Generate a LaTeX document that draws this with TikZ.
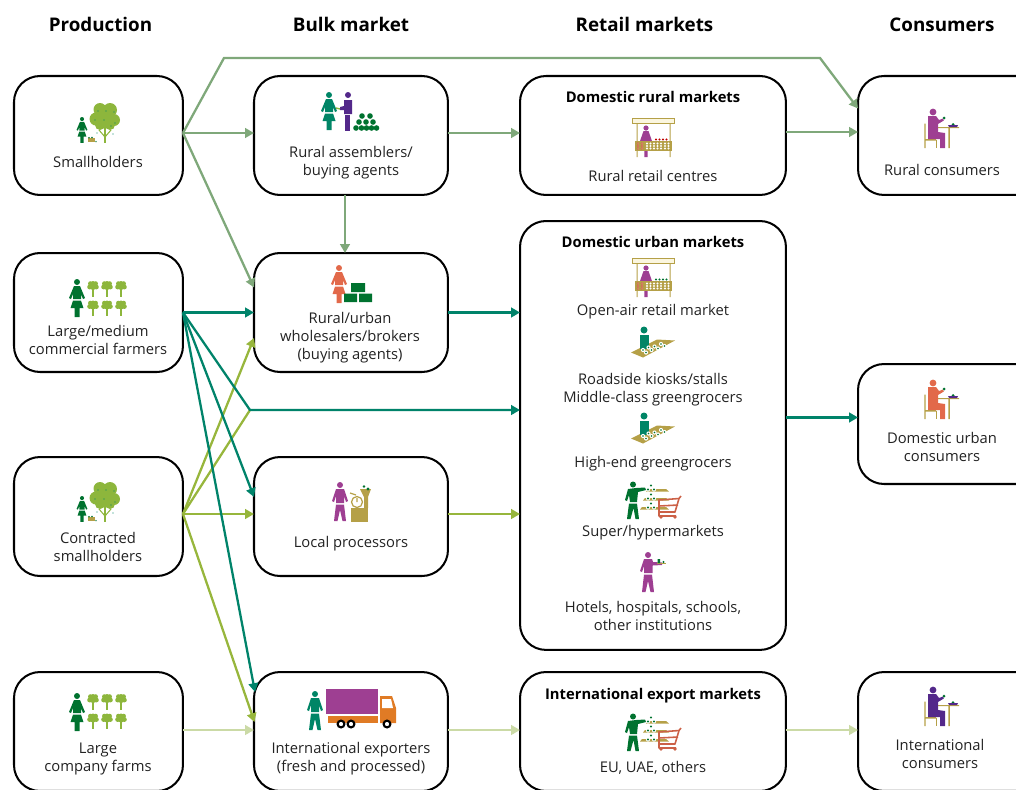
\documentclass[tikz,border=0pt]{standalone}
\usepackage{fontspec}
\setmainfont{Open Sans}
\usetikzlibrary{calc,arrows.meta}

\definecolor{sageline}{HTML}{7FA87A}
\definecolor{tealline}{HTML}{00836A}
\definecolor{oliveline}{HTML}{97B63C}
\definecolor{paleline}{HTML}{CBDAA6}
\definecolor{figgreen}{HTML}{00722F}
\definecolor{figteal}{HTML}{008566}
\definecolor{figpurple}{HTML}{9E3F92}
\definecolor{figviolet}{HTML}{53288A}
\definecolor{figcoral}{HTML}{E2694A}
\definecolor{treegreen}{HTML}{8DB63C}
\definecolor{gold}{HTML}{B5A047}
\definecolor{cream}{HTML}{FBF6DF}
\definecolor{truckorange}{HTML}{E07B25}
\definecolor{cartred}{HTML}{CC6147}
\definecolor{inktext}{HTML}{222222}

\tikzset{
  box/.style={draw=black,line width=1.15pt,rounded corners=.52cm,anchor=north west,inner sep=0pt,outer sep=0pt},
  lab/.style={font=\fontsize{8.4}{10.2}\selectfont,text=inktext,align=center,inner sep=0pt},
  boldlab/.style={font=\fontsize{8.4}{10.2}\selectfont\bfseries,text=black,inner sep=0pt},
  head/.style={font=\fontsize{10.7}{12}\selectfont\bfseries,text=black,inner sep=0pt},
  link/.style={line width=1.3pt,-{Triangle[length=5pt,width=5.4pt]}},
  woman/.pic={
    \fill[#1] (0,3) circle (3);
    \fill[#1] (-3,7) -- (3,7) -- (8,19) -- (6,20) -- (4,15) -- (4,20) -- (-4,20) -- (-4,15) -- (-6,20) -- (-8,19) -- cycle;
    \fill[#1] (-4,21.5) -- (4,21.5) -- (6.5,29) -- (2.5,29) -- (2.5,38) -- (-2.5,38) -- (-2.5,29) -- (-6.5,29) -- cycle;
  },
  man/.pic={
    \fill[#1] (0,3) circle (3);
    \fill[#1] (-4,7) -- (4,7) -- (8,19) -- (6,20) -- (4,14) -- (4,21) -- (-4,21) -- (-4,14) -- (-6,20) -- (-8,19) -- cycle;
    \fill[#1] (-4,22.5) -- (4,22.5) -- (6,39) -- (2.5,39) -- (0,28) -- (-2.5,39) -- (-6,39) -- cycle;
  },
  bigtree/.pic={
    \fill[treegreen] (-.9,24) rectangle (1.1,40);
    \draw[treegreen,line width=.6pt] (0,34) -- (-6,27) (0,34) -- (6,27);
    \foreach \cx/\cy/\cr in {-5/6.5/6.5,5/7/7,-9/16/6.5,9/17/6,0/14/10,-5/22/5,5/22/5}
      \fill[treegreen] (\cx,\cy) circle (\cr);
    \foreach \cx/\cy in {-7/8,1/8,9/9,-10/17,-1/17,6/23,10/20,-8/30,8/31}
      \fill[figteal] (\cx,\cy) circle (.7);
  },
  smalltree/.pic={
    \fill[treegreen] (-.6,7) rectangle (.6,15.5);
    \foreach \cx/\cy/\cr in {-2.6/2.6/2.4,2.6/2.6/2.4,0/2.2/2.2,-3.4/6/2.4,3.4/6/2.4,0/5.5/3.6}
      \fill[treegreen] (\cx,\cy) circle (\cr);
  },
  basket/.pic={
    \fill[gold] (-3.5,-2) rectangle (3.5,2);
    \fill[figgreen] (-2,-2.3) circle (.8) (1,-2.5) circle (.8) (5,1.6) circle (.7);
  },
  stall/.pic={
    \fill[gold] (-16.5,5) rectangle (-15.5,39) (16.5,5) rectangle (17.5,39);
    \draw[gold,fill=cream,line width=.5pt] (-21,.5) rectangle (21,5);
    \fill[figpurple] (-7,10) circle (2.6);
    \fill[figpurple] (-7,13) -- (-4.5,13) -- (-1,23) -- (-13,23) -- (-9.5,13) -- cycle (-8.7,33) rectangle (-5.3,39);
    \foreach \dx in {3,6.5,10,13.5}
      \fill[#1] (\dx,21.5) circle (1.2);
    \fill[gold] (-18,23) rectangle (19,33);
    \foreach \dx in {-15,-11}
      \foreach \dy in {25.5,28,30.5}
        \draw[cartred,fill=white,line width=.3pt] (\dx,\dy) circle (1);
    \foreach \dx in {-6,-2.5,1,4.5,8,12,15.5}
      \foreach \dy in {25.5,28,30.5}
        \fill[white] (\dx,\dy) circle (1.1);
  },
  diner/.pic={
    \fill[gold] (-8.7,15.5) rectangle (-7.3,40) (-8,31) rectangle (3,32.5);
    \fill[gold] (5,19) rectangle (26,20.2) (15.4,20) rectangle (16.8,40);
    \fill[gold] (2.8,32) rectangle (4.2,40);
    \fill[#1] (0,4) circle (3.4);
    \fill[#1] (-5,8) -- (3,8) -- (6,12) -- (10,10.5) -- (10.8,12.5) -- (5,16) -- (5,24) -- (12,25) -- (12,40) -- (7,40) -- (7,31) -- (-5,31) -- cycle;
    \fill[figgreen] (11,10) circle (1.5) (20,16.5) circle (1.5);
    \fill[figviolet] (15,17) -- (25,17) -- (24,19) -- (16,19) -- cycle;
  },
  mat/.pic={
    \fill[gold] (-13,26) -- (13,13) -- (31,14) -- (-1,31) -- cycle;
    \fill[figteal] (0,3.5) circle (3.5);
    \fill[figteal] (-4.5,8.5) rectangle (4.5,22);
    \foreach \dx/\dy in {-1/23.5,2/26,4.5/21,7.5/23.5,10.5/20,14/22,17/17.5,20.5/19.5}
      \fill[white] (\dx,\dy) circle (2.1);
    \foreach \dx/\dy in {-1/23.5,2/26,4.5/21,7.5/23.5,10.5/20,14/22,17/17.5,20.5/19.5}
      \fill[figgreen] (\dx,\dy) circle (.8);
  },
  shelves/.pic={
    \foreach \sy/\sxa in {9/13,18/10,27/7} {
      \fill[gold] (\sxa,\sy+1.5) -- (\sxa+2,\sy-1) -- (33,\sy-1) -- (36,\sy+1.5) -- cycle;
      \foreach \dx/\dy in {-3/0,3/0,0/-4} {
        \fill[white] (18+\dx,\sy-.5+\dy) circle (2.1);
        \fill[figgreen] (18+\dx,\sy-.5+\dy) circle (1.1);
      }
    }
    \fill[figgreen] (0,3.5) circle (3);
    \fill[figgreen] (-5,8) -- (3,7) -- (12,6.5) -- (13,9) -- (5,11) -- (4,21) -- (-3,21) -- (-4,14) -- (-6,20) -- (-8,19) -- cycle;
    \fill[figgreen] (-4,22.5) -- (4,22.5) -- (6,38) -- (2.5,38) -- (.5,27) -- (-2.5,38) -- (-6,38) -- cycle;
    \draw[cartred,line width=.9pt,line join=round] (48,15) -- (46,17.5) -- (42,31) -- (26,31) -- (26,35) -- (43,35);
    \draw[cartred,line width=.9pt] (46,17.5) -- (26,19) -- (26,31) (45,24) -- (26,25);
    \fill[cartred] (28,36) circle (1.8) (42,36) circle (1.8);
  },
  waiter/.pic={
    \fill[#1] (0,3) circle (3);
    \fill[#1] (-4,7) -- (4,7) -- (5,10) -- (14,10.5) -- (14,13) -- (4.5,13.5) -- (4.5,21) -- (-4,21) -- (-4,14) -- (-6,20) -- (-8,19) -- cycle;
    \fill[#1] (-4,22.5) -- (4,22.5) -- (6,40) -- (2.5,40) -- (0,29) -- (-2.5,40) -- (-6,40) -- cycle;
    \fill[gold] (9,11) rectangle (18,12);
    \fill[figgreen] (9.5,7) rectangle (12,11) (15.5,10) circle (1.2);
  }
}

\begin{document}
\begin{tikzpicture}[x=.02cm,y=-.02cm]
  \path[use as bounding box,clip] (0,0) rectangle (1016,789);

  % column heads
  \node[head] (hprod) at (100.5,24) {Production};
  \node[head] (hbulk) at (351,24) {Bulk market};
  \node[head] (hretail) at (644.5,24) {Retail markets};
  \node[head] (hcons) at (942,25) {Consumers};

  % boxes
  \node[box,minimum width=3.38cm,minimum height=2.38cm] (small) at (14,76) {};
  \node[box,minimum width=3.38cm,minimum height=2.38cm] (large) at (14,253) {};
  \node[box,minimum width=3.38cm,minimum height=2.38cm] (contr) at (14,457) {};
  \node[box,minimum width=3.38cm,minimum height=2.38cm] (comp) at (14,672) {};
  \node[box,minimum width=3.88cm,minimum height=2.38cm] (assem) at (254,76) {};
  \node[box,minimum width=3.88cm,minimum height=2.38cm] (whole) at (254,253) {};
  \node[box,minimum width=3.88cm,minimum height=2.38cm] (proc) at (254,457) {};
  \node[box,minimum width=3.88cm,minimum height=2.38cm] (expo) at (254,672) {};
  \node[box,minimum width=5.32cm,minimum height=2.38cm] (drural) at (520,76) {};
  \node[box,minimum width=5.32cm,minimum height=8.58cm] (durban) at (520,221) {};
  \node[box,minimum width=5.32cm,minimum height=2.38cm] (intl) at (520,672) {};
  \node[box,minimum width=3.8cm,minimum height=2.38cm] (crural) at (858,76) {};
  \node[box,minimum width=3.8cm,minimum height=2.4cm] (curban) at (858,364) {};
  \node[box,minimum width=3.8cm,minimum height=2.38cm] (cintl) at (858,672) {};

  % free points of the connectors
  \coordinate (smallout) at ($(small.east)+(0,-2.5)$);
  \coordinate (controut) at ($(contr.east)+(0,-2.5)$);
  \coordinate (compout) at ($(comp.east)+(0,-1.5)$);
  \coordinate (assemout) at ($(assem.east)+(0,-2.5)$);
  \coordinate (procout) at ($(proc.east)+(0,-2.5)$);
  \coordinate (expoout) at ($(expo.east)+(0,-1.5)$);
  \coordinate (intlout) at ($(intl.east)+(0,-1.5)$);
  \coordinate (druralout) at ($(drural.east)+(0,-3.5)$);
  \coordinate (durbanout) at ($(durban.east)+(0,-18)$);
  \coordinate (topa) at (224,58);
  \coordinate (topb) at (820,58);
  \coordinate (join) at (250,410);

  % smallholder flows
  \draw[link,sageline] (smallout) -- (smallout -| assem.west);
  \draw[link,sageline] (smallout) -- ($(whole.west)+(0,-25)$);
  \draw[link,sageline] (smallout) -- (topa) -- (topb) -- ($(crural.west)+(0,-27)$);
  \draw[link,sageline] (assemout) -- (assemout -| drural.west);
  \draw[link,sageline] (druralout) -- (druralout -| crural.west);
  \draw[link,sageline] ($(assem.south)+(-6,0)$) -- ($(whole.north)+(-6,0)$);

  % contracted flows
  \draw[link,oliveline] (controut) -- (controut -| proc.west);
  \draw[link,oliveline] (controut) -- ($(whole.west)+(0,25.5)$);
  \draw[line width=1.3pt,oliveline] (controut) -- (join);
  \draw[link,oliveline] (controut) -- ($(expo.west)+(.5,-9.5)$);
  \draw[link,oliveline] (procout) -- (procout -| durban.west);

  % commercial farmer flows
  \draw[link,tealline] (large.east) -- (whole.west);
  \draw[link,tealline] (whole.east) -- (whole.east -| durban.west);
  \draw[link,tealline] (large.east) -- (join) -- (join -| durban.west);
  \draw[link,tealline] (large.east) -- ($(proc.west)+(0,-19.5)$);
  \draw[link,tealline] (large.east) -- ($(expo.west)+(1,-39.5)$);
  \draw[link,tealline] (durbanout) -- (durbanout -| curban.west);

  % company farm flows
  \draw[link,paleline] (compout) -- (compout -| expo.west);
  \draw[link,paleline] (expoout) -- (expoout -| intl.west);
  \draw[link,paleline] (intlout) -- (intlout -| cintl.west);

  % labels
  \node[lab] (tsmall) at (98,162) {Smallholders};
  \node[lab] (tlarge) at (98,340) {Large/medium\\commercial farmers};
  \node[lab] (tcontr) at (98,547) {Contracted\\smallholders};
  \node[lab] (tcomp) at (98,759) {Large\\company farms};
  \node[lab] (tassem) at (351,163) {Rural assemblers/\\buying agents};
  \node[lab] (twhole) at (350,338) {Rural/urban\\wholesalers/brokers\\(buying agents)};
  \node[lab] (tproc) at (351,544) {Local processors};
  \node[lab] (texpo) at (351,759) {International exporters\\(fresh and processed)};
  \node[boldlab] (tdrural) at (653,97) {Domestic rural markets};
  \node[lab] (tcentres) at (653,176) {Rural retail centres};
  \node[boldlab] (tdurban) at (653,242) {Domestic urban markets};
  \node[lab] (topen) at (653,312) {Open-air retail market};
  \node[lab] (tkiosk) at (653,390) {Roadside kiosks/stalls\\Middle-class greengrocers};
  \node[lab] (thigh) at (653,464) {High-end greengrocers};
  \node[lab] (tsuper) at (653,533) {Super/hypermarkets};
  \node[lab] (thotel) at (653,616) {Hotels, hospitals, schools,\\other institutions};
  \node[boldlab] (tintl) at (653,696) {International export markets};
  \node[lab] (teu) at (653,768) {EU, UAE, others};
  \node[lab] (tcrural) at (942,170) {Rural consumers};
  \node[lab] (tcurban) at (942,447) {Domestic urban\\consumers};
  \node[lab] (tcintl) at (940,754) {International\\consumers};

  % icons, production
  \pic[scale=.68] at (82,117) {woman=figgreen};
  \pic at (105,103) {bigtree};
  \pic at (91,140) {basket};
  \pic at (77,279) {woman=figgreen};
  \pic[scale=.68] at (82,496) {woman=figgreen};
  \pic at (105,482) {bigtree};
  \pic at (91,519) {basket};
  \pic at (77,693) {woman=figgreen};
  \foreach \tx in {93,107,121} {
    \pic at (\tx,281) {smalltree};
    \pic at (\tx,300.5) {smalltree};
    \pic at (\tx,694) {smalltree};
    \pic at (\tx,713.5) {smalltree};
  }

  % icons, bulk market
  \pic at (329,92) {woman=figteal};
  \fill[figviolet] (348,95) circle (3);
  \fill[figviolet] (344,100) -- (352,100) -- (352,114) -- (344,114) -- (344,110) -- (340,110) -- (340,107) -- (344,106) -- cycle;
  \fill[figviolet] (345,115) rectangle (350,131);
  \draw[treegreen,line width=.8pt] (336,108) -- (340,109);
  \foreach \bx/\by in {356/128,361.5/128,366.5/128,371.5/128,376.5/128,359/122,366/122,373/122,362/116,370/116}
    \fill[figgreen] (\bx,\by) circle (2.8);
  \pic at (339,265) {woman=figcoral};
  \fill[figgreen] (351,283) rectangle (365,292) (344,293.5) rectangle (357,302) (359,293.5) rectangle (372,302);
  \pic at (340,482) {man=figpurple};
  \fill[gold] (351,508) rectangle (368,522);
  \fill[gold] (360,489) -- (371,489) -- (368,497) -- (368,508) -- (364,508) -- (364,497) -- cycle;
  \draw[gold,line width=.7pt] (357,502) circle (5.5) (357,502) -- (357,498) (350,493) -- (356,495);
  \fill[figgreen] (364,486.5) circle (1.4) (368,489) circle (1.6);
  \pic at (315,691) {man=figteal};
  \fill[figpurple] (326,689) rectangle (378,714);
  \fill[truckorange] (328,716) rectangle (378,723);
  \fill[truckorange] (380,696) -- (392,696) -- (396,708) -- (396,723) -- (380,723) -- cycle;
  \fill[white] (382,699) -- (391,699) -- (393,708) -- (382,708) -- cycle;
  \foreach \wx in {341,351,387}
    \draw[black,fill=white,line width=1.2pt] (\wx,724) circle (3.4);

  % icons, retail markets
  \pic at (653,118) {stall=red!75!black};
  \pic at (653,258) {stall=figgreen};
  \pic at (644,326.5) {mat};
  \pic at (644,412.5) {mat};
  \pic at (633,481) {shelves};
  \pic at (633,713) {shelves};
  \pic at (648,552) {waiter=figpurple};

  % icons, consumers
  \pic at (933,108) {diner=figpurple};
  \pic at (933,379) {diner=figcoral};
  \pic at (933,686) {diner=figviolet};
\end{tikzpicture}
\end{document}
